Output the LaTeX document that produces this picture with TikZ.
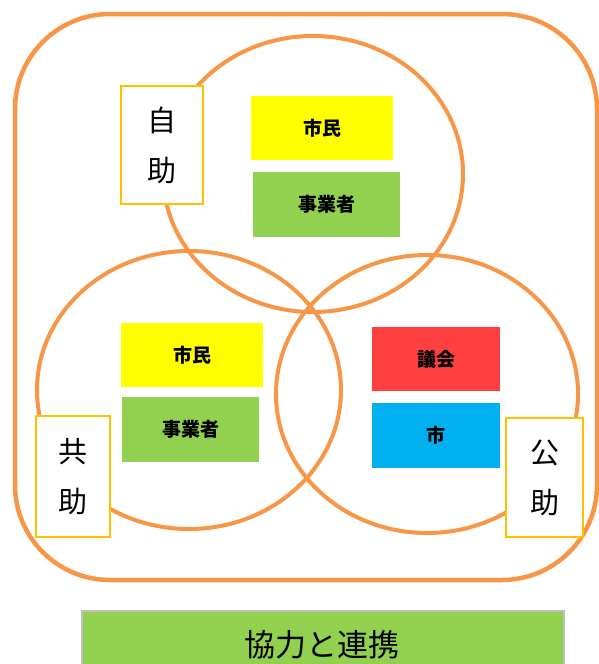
\documentclass[tikz,border=0pt]{standalone}
\usepackage{fontspec}
\setmainfont{Noto Sans CJK JP}
\definecolor{orng}{HTML}{F79646}
\definecolor{gold}{HTML}{FFC000}
\definecolor{ylw}{HTML}{FFFF00}
\definecolor{grn}{HTML}{92D050}
\definecolor{rd}{HTML}{FF4040}
\definecolor{blu}{HTML}{00B0F0}
\definecolor{gry}{HTML}{BFBFBF}
\tikzset{
  ring/.style={draw=orng, line width=4pt},
  tag/.style={draw=gold, line width=1.6pt, fill=white, font=\fontsize{29}{50}\selectfont, align=center, inner sep=0pt},
  cbox/.style={inner sep=0pt, font=\fontsize{19}{22}\selectfont\bfseries},
}
\begin{document}
\begin{tikzpicture}[x=1pt,y=-1pt]
\useasboundingbox (0,0) rectangle (599,664);
% outer rounded frame
\draw[draw=orng, line width=4.5pt, rounded corners=95pt] (15,14) rectangle (597,580);
% circles
\draw[ring] (313,174) ellipse [x radius=150, y radius=138];
\draw[ring] (189,390) ellipse [x radius=152, y radius=139];
\draw[ring] (427,394) ellipse [x radius=151, y radius=139];
% label boxes
\node[tag, minimum width=82pt, minimum height=118pt] (jijo) at (162,145) {自\\助};
\node[tag, minimum width=74pt, minimum height=121pt] (kyojo) at (73,476.5) {共\\助};
\node[tag, minimum width=77pt, minimum height=119pt] (kojo) at (544.5,477.5) {公\\助};
% coloured boxes
\node[cbox, fill=ylw, minimum width=142pt, minimum height=64pt] (shimin1) at (322,128) {市民};
\node[cbox, fill=grn, minimum width=147pt, minimum height=65pt] (jigyo1) at (326.5,204.5) {事業者};
\node[cbox, fill=ylw, minimum width=142pt, minimum height=64pt] (shimin2) at (192,355) {市民};
\node[cbox, fill=grn, minimum width=137pt, minimum height=65pt] (jigyo2) at (190.5,429.5) {事業者};
\node[cbox, fill=rd, minimum width=128pt, minimum height=64pt] (gikai) at (436,359) {議会};
\node[cbox, fill=blu, minimum width=128pt, minimum height=65pt] (shi) at (436,435.5) {市};
% bottom bar
\node[draw=gry, line width=1.5pt, fill=grn, minimum width=482pt, minimum height=70pt, inner sep=0pt, anchor=north west, font=\fontsize{31}{34}\selectfont] (kyoryoku) at (81,610) {};
\node[font=\fontsize{31}{34}\selectfont] (kyoryokutxt) at (322,645) {協力と連携};
\end{tikzpicture}
\end{document}
